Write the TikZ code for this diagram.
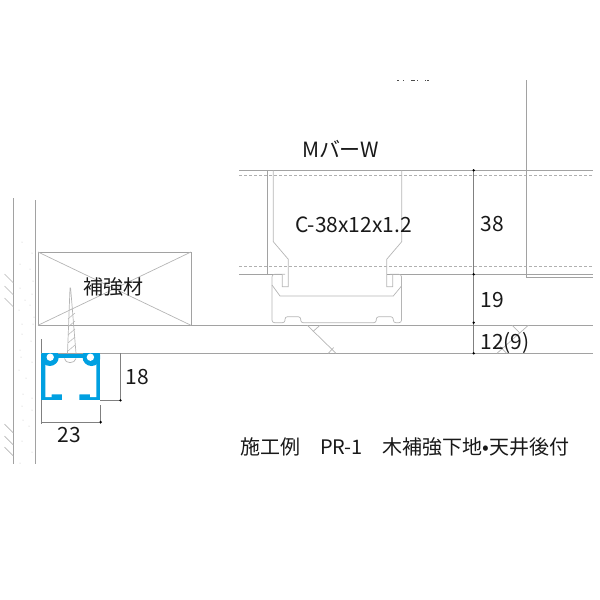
\documentclass[tikz,border=0pt]{standalone}
\usepackage{fontspec}
\setmainfont{Noto Sans CJK JP}
\definecolor{railBlue}{HTML}{00A0E1}
\definecolor{lineGrey}{HTML}{A2A2A2}
\tikzset{
  part/.style={draw=lineGrey,line width=0.9pt},
  thin part/.style={draw=lineGrey!80,line width=0.7pt},
  hidden line/.style={draw=lineGrey!85,line width=0.5pt,dash pattern=on 3pt off 2pt},
  dim line/.style={draw=gray,line width=0.6pt},
  dim dot/.style={circle,fill=black,inner sep=0pt,minimum size=2.6pt},
  label/.style={inner sep=0pt,font=\fontsize{21}{25}\selectfont,text=black!90},
  title label/.style={inner sep=0pt,font=\fontsize{20}{24}\selectfont,text=black!90}
}

\begin{document}
\begin{tikzpicture}[x=1pt,y=-1pt]
\useasboundingbox (0,0) rectangle (600,600);

% Parameters
\def\rightEnd{593}
\def\topY{170.3}
\def\slabY{274.3}
\def\boardTop{325.3}
\def\boardBot{353.3}

% Wall
\draw[part] (13.5,198) -- (13.5,464);
\draw[part] (35.5,200) -- (35.5,464);
\foreach \hy in {283,295,307,433,445,456}
  \draw[thin part] (13.5,\hy) -- (4.5,\hy-9);
\foreach \dx/\dy in {22/242,32/253,20/264,30/269,33/281,32/294,20/288,25/300,30/305,19/310,34/317,22/324,33/324,22/334,31/341,20/350,21/357,32/362,19/370,26/378,23/394,32/398,22/406,32/410,23/420,29/426,22/441,32/452,20/463}
  \fill[lineGrey!70] (\dx,\dy) circle (0.5);

% Reinforcement block
\draw[part] (38,252) rectangle (191,\boardTop);
\draw[thin part] (38,252) -- (191,\boardTop);
\draw[thin part] (191,252) -- (38,\boardTop);

% Horizontal lines
\draw[part] (191,\boardTop) -- (\rightEnd,\boardTop);
\draw[part] (41,\boardBot) -- (\rightEnd,\boardBot);
\draw[part] (239,\topY) -- (\rightEnd,\topY);
\draw[part] (239,\slabY) -- (282.3,\slabY);
\draw[part] (386.7,\slabY) -- (\rightEnd,\slabY);
\draw[hidden line] (239,175.3) -- (\rightEnd,175.3);
\draw[hidden line] (239,266.7) -- (\rightEnd,266.7);

% Right hand panel
\draw[part] (526.3,80) -- (526.3,277.3) -- (\rightEnd,277.3);

% Channel
\draw[part] (267.3,\topY) -- (267.3,\slabY);
\draw[thin part] (273.3,\topY) -- (273.3,241.7) -- (288.3,259.3) -- (288.3,286.7) -- (282.3,286.7) -- (282.3,\slabY);
\draw[thin part] (401.7,\topY) -- (401.7,241.7) -- (386.7,259.3) -- (386.7,286.7) -- (392.7,286.7) -- (392.7,\slabY);

% M bar
\draw[thin part,rounded corners=2.5pt] (285,\slabY) -- (272,\slabY) -- (272,322.7) -- (285,322.7) -- (285,316.7) -- (300.7,316.7) -- (300.7,322.7) -- (376.3,322.7) -- (376.3,316.7) -- (393.3,316.7) -- (393.3,322.7) -- (401.5,322.7) -- (401.5,\slabY) -- (390,\slabY);
\draw[thin part] (272,285) -- (280,296) -- (393.3,296) -- (401.5,286);

% Break lines
\draw[thin part] (307.3,\boardTop) -- (336,\boardBot);
\draw[thin part] (320,\boardTop) -- (313,331.5);
\draw[thin part] (328.3,\boardBot) -- (333.7,347.5);
\draw[thin part] (528.3,\boardTop) -- (497,\boardBot);
\draw[thin part] (512.3,\boardTop) -- (520,333.3);
\draw[thin part] (506.7,\boardBot) -- (500,346.7);

% Screw
\draw[thin part] (67.5,\boardBot) -- (70,288) -- (70.6,288) -- (76,\boardBot);
\foreach \sy in {319,327,335,343,351}
  \draw[thin part,line width=0.5pt] (68,\sy) -- (75,\sy-6);

% Rail
\fill[railBlue] (41,353.5) rectangle (100,400.4);
\fill[white] (45.3,358) -- (96.3,358) -- (96.3,397) -- (90,397) -- (90,394.3) -- (79.3,394.3) -- (79.3,401) -- (62,401) -- (62,394.3) -- (51.7,394.3) -- (51.7,397) -- (45.3,397) -- cycle;
\begin{scope}
  \clip (41,353.5) rectangle (100,400.4);
  \fill[railBlue] (49.8,357) circle (9);
  \fill[railBlue] (91.5,357) circle (9);
\end{scope}
\fill[white] (50.2,357.2) circle (3.7);
\fill[white] (90.4,357.2) circle (3.7);
\draw[thin part] (64.5,358.5) .. controls (65,364) and (75,364) .. (76,358.5);

% Dimensions
\coordinate (dimTop) at (473.7,\topY);
\coordinate (dimSlab) at (473.7,\slabY);
\coordinate (dimBar) at (473.7,322.7);
\coordinate (dimBoard) at (473.7,\boardBot);
\draw[dim line] (dimTop) -- (dimBoard);
\foreach \c in {dimTop,dimSlab,dimBar,dimBoard}
  \node[dim dot] at (\c) {};

\coordinate (railH) at (120.5,400.3);
\coordinate (railW) at (100.7,422);
\draw[dim line] (120.5,\boardBot) -- (railH) -- (100,400.3);
\draw[dim line] (41,339) -- (41,\boardBot);
\draw[dim line] (41,400.4) -- (41,424);
\draw[dim line] (41,422) -- (railW);
\draw[dim line] (100.7,405) -- (100.7,424);
\node[dim dot] at (railH) {};
\node[dim dot] at (railW) {};

% Clipped text at the top edge
\foreach \tx/\tw in {397/2,403/1,411/4,417/1,425/1,427/2}
  \fill[black!70] (\tx,80) rectangle (\tx+\tw,81);

% Labels
\node[label] (barName) at (341,149) {Mバ\hspace{-1pt}ーW};
\node[label] (channelName) at (353.5,225) {C-38x12x1.2};
\node[title label] (blockName) at (113,287) {補強材};
\node[label] (dimA) at (492.5,224.5) {38};
\node[label] (dimB) at (492.5,300.5) {19};
\node[label] (dimC) at (505,342.5) {12(9)};
\node[label] (dimD) at (137.5,377.5) {18};
\node[label] (dimE) at (69.5,435.5) {23};
\node[title label] (caption) at (405,447) {施工例\hspace{20pt}PR-1\hspace{20pt}木補強下地•天井後付};
\end{tikzpicture}
\end{document}
